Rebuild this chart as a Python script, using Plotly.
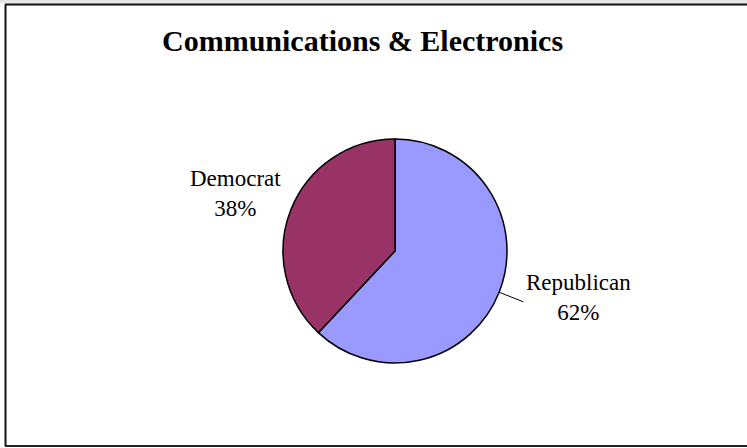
import math
import plotly.graph_objects as go

# Data
parties = ["Republican", "Democrat"]
shares = [62, 38]
colors = ["#9999FF", "#993366"]
title_text = "Communications & Electronics"

W, H = 747, 448
cx, cy, R = 395, 251, 112  # pixel geometry of pie (style)

fig = go.Figure(go.Pie(
    labels=parties,
    values=shares,
    sort=False,
    direction="clockwise",
    rotation=0,
    marker=dict(colors=colors, line=dict(color="black", width=1.5)),
    textinfo="none",
    hoverinfo="label+percent",
    showlegend=False,
    domain=dict(x=[(cx - R) / W, (cx + R) / W],
                y=[(H - cy - R) / H, (H - cy + R) / H]),
))

def px(x):
    return x / W

def py(y):
    return 1 - y / H

annotations = []
shapes = []
total = sum(shares)
start = 0.0
for i, (lab, v) in enumerate(zip(parties, shares)):
    frac = v / total
    mid = (start + frac / 2) * 2 * math.pi  # clockwise from top
    start += frac
    dx, dy = math.sin(mid), -math.cos(mid)
    pct = f"{round(100 * frac)}%"
    txt = f"{lab}<br>{pct}"
    if dx > 0:
        x0, y0 = cx + R * dx, cy + R * dy
        x1, y1 = cx + (R + 26) * dx, cy + (R + 26) * dy
        shapes.append(dict(type="line", xref="paper", yref="paper",
                           x0=px(x0), y0=py(y0), x1=px(x1), y1=py(y1),
                           line=dict(color="black", width=1)))
        annotations.append(dict(x=px(x1 + 1), y=py(y1 - 4), xref="paper", yref="paper",
                                text=txt, showarrow=False, xanchor="left", yanchor="middle",
                                align="center",
                                font=dict(family="Liberation Serif", size=23, color="black")))
    else:
        x1, y1 = cx + (R + 8) * dx, cy + (R + 8) * dy
        annotations.append(dict(x=px(x1), y=py(y1 - 13), xref="paper", yref="paper",
                                text=txt, showarrow=False, xanchor="right", yanchor="middle",
                                align="center",
                                font=dict(family="Liberation Serif", size=23, color="black")))

# frame
shapes += [
    dict(type="rect", xref="paper", yref="paper", x0=0, x1=1, y0=py(3.5), y1=1,
         fillcolor="#e6e6e6", line=dict(width=0), layer="below"),
    dict(type="line", xref="paper", yref="paper", x0=px(5.5), x1=px(5.5), y0=py(446), y1=py(4.5),
         line=dict(color="#111", width=2)),
    dict(type="line", xref="paper", yref="paper", x0=px(5), x1=1, y0=py(4.5), y1=py(4.5),
         line=dict(color="#111", width=2)),
    dict(type="line", xref="paper", yref="paper", x0=px(5), x1=1, y0=py(446), y1=py(446),
         line=dict(color="#222", width=2)),
]

annotations.append(dict(x=px(362), y=py(40), xref="paper", yref="paper",
                        text=f"<b>{title_text}</b>", showarrow=False,
                        xanchor="center", yanchor="middle",
                        font=dict(family="Liberation Serif", size=30, color="black")))

fig.update_layout(
    width=W, height=H,
    margin=dict(l=0, r=0, t=0, b=0),
    paper_bgcolor="white", plot_bgcolor="white",
    annotations=annotations, shapes=shapes,
)

fig.write_html("out.html", config={"displayModeBar": False},
               post_script="document.body.style.margin='0';document.body.style.overflow='hidden';")
